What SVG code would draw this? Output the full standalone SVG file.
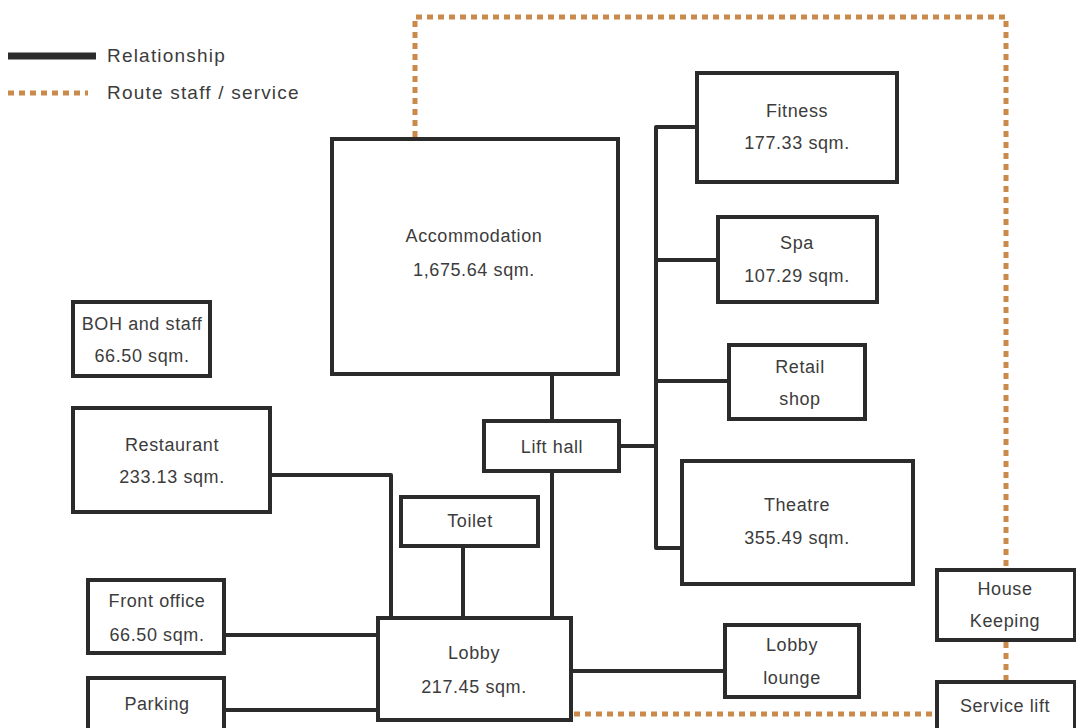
<svg xmlns="http://www.w3.org/2000/svg" width="1076" height="728" viewBox="0 0 1076 728">
<defs>
<style>
.box{fill:#fff;stroke:#2b2b2b;stroke-width:4}
.rel{fill:none;stroke:#2b2b2b;stroke-width:4;stroke-linejoin:round}
.svc{fill:none;stroke:#c98a4b;stroke-width:5;stroke-dasharray:6 5}
text{font-family:"Liberation Sans",Arial,sans-serif;font-size:18px;letter-spacing:0.6px;fill:#3c3c3c;text-anchor:middle}
.leg{text-anchor:start;font-size:19px;letter-spacing:1.2px}
</style>
</defs>
<rect width="1076" height="728" fill="#fff"/>
<g id="legend">
<line x1="8" y1="56" x2="96" y2="56" stroke="#2b2b2b" stroke-width="7"/>
<text class="leg" x="107" y="62">Relationship</text>
<line x1="8" y1="93" x2="88" y2="93" class="svc" stroke-width="7" stroke-dasharray="7 5"/>
<text class="leg" x="107" y="99">Route staff / service</text>
</g>
<g id="connectors">
<path class="svc" d="M415 137 V17 H1006 V568"/>
<path class="svc" d="M1006 642 V680"/>
<path class="svc" d="M574 714 H935"/>
<path class="rel" d="M552 374 V421"/>
<path class="rel" d="M552 471 V618"/>
<path class="rel" d="M463 546 V618"/>
<path class="rel" d="M270 475 H391 V618"/>
<path class="rel" d="M224 635 H378"/>
<path class="rel" d="M224 710 H378"/>
<path class="rel" d="M571 671 H725"/>
<path class="rel" d="M619 446 H656"/>
<path class="rel" d="M697 127 H656 V548 H682"/>
<path class="rel" d="M656 260 H718"/>
<path class="rel" d="M656 381 H729"/>
</g>
<g id="accommodation"><rect class="box" x="332" y="139" width="286" height="235"/><text x="474" y="242">Accommodation</text><text x="474" y="276">1,675.64  sqm.</text></g>
<g id="fitness"><rect class="box" x="697" y="73" width="200" height="109"/><text x="797" y="117">Fitness</text><text x="797" y="149">177.33 sqm.</text></g>
<g id="spa"><rect class="box" x="718" y="217" width="159" height="85"/><text x="797" y="249">Spa</text><text x="797" y="282">107.29 sqm.</text></g>
<g id="retail"><rect class="box" x="729" y="345" width="136" height="74"/><text x="800" y="373">Retail</text><text x="800" y="405">shop</text></g>
<g id="theatre"><rect class="box" x="682" y="461" width="231" height="123"/><text x="797" y="511">Theatre</text><text x="797" y="544">355.49 sqm.</text></g>
<g id="lifthall"><rect class="box" x="484" y="421" width="135" height="50"/><text x="552" y="453">Lift hall</text></g>
<g id="toilet"><rect class="box" x="401" y="497" width="137" height="49"/><text x="470" y="527">Toilet</text></g>
<g id="boh"><rect class="box" x="73" y="302" width="137" height="74"/><text x="142" y="330">BOH and staff</text><text x="142" y="362">66.50 sqm.</text></g>
<g id="restaurant"><rect class="box" x="73" y="408" width="197" height="104"/><text x="172" y="451">Restaurant</text><text x="172" y="483">233.13 sqm.</text></g>
<g id="frontoffice"><rect class="box" x="88" y="580" width="136" height="73"/><text x="157" y="607">Front office</text><text x="157" y="641">66.50 sqm.</text></g>
<g id="parking"><rect class="box" x="88" y="678" width="136" height="60"/><text x="157" y="710">Parking</text></g>
<g id="lobby"><rect class="box" x="378" y="618" width="193" height="102"/><text x="474" y="659">Lobby</text><text x="474" y="693">217.45 sqm.</text></g>
<g id="lobbylounge"><rect class="box" x="725" y="625" width="134" height="72"/><text x="792" y="651">Lobby</text><text x="792" y="684">lounge</text></g>
<g id="housekeeping"><rect class="box" x="937" y="570" width="138" height="70"/><text x="1005" y="595">House</text><text x="1005" y="627">Keeping</text></g>
<g id="servicelift"><rect class="box" x="937" y="682" width="138" height="60"/><text x="1005" y="712">Service lift</text></g>
</svg>
